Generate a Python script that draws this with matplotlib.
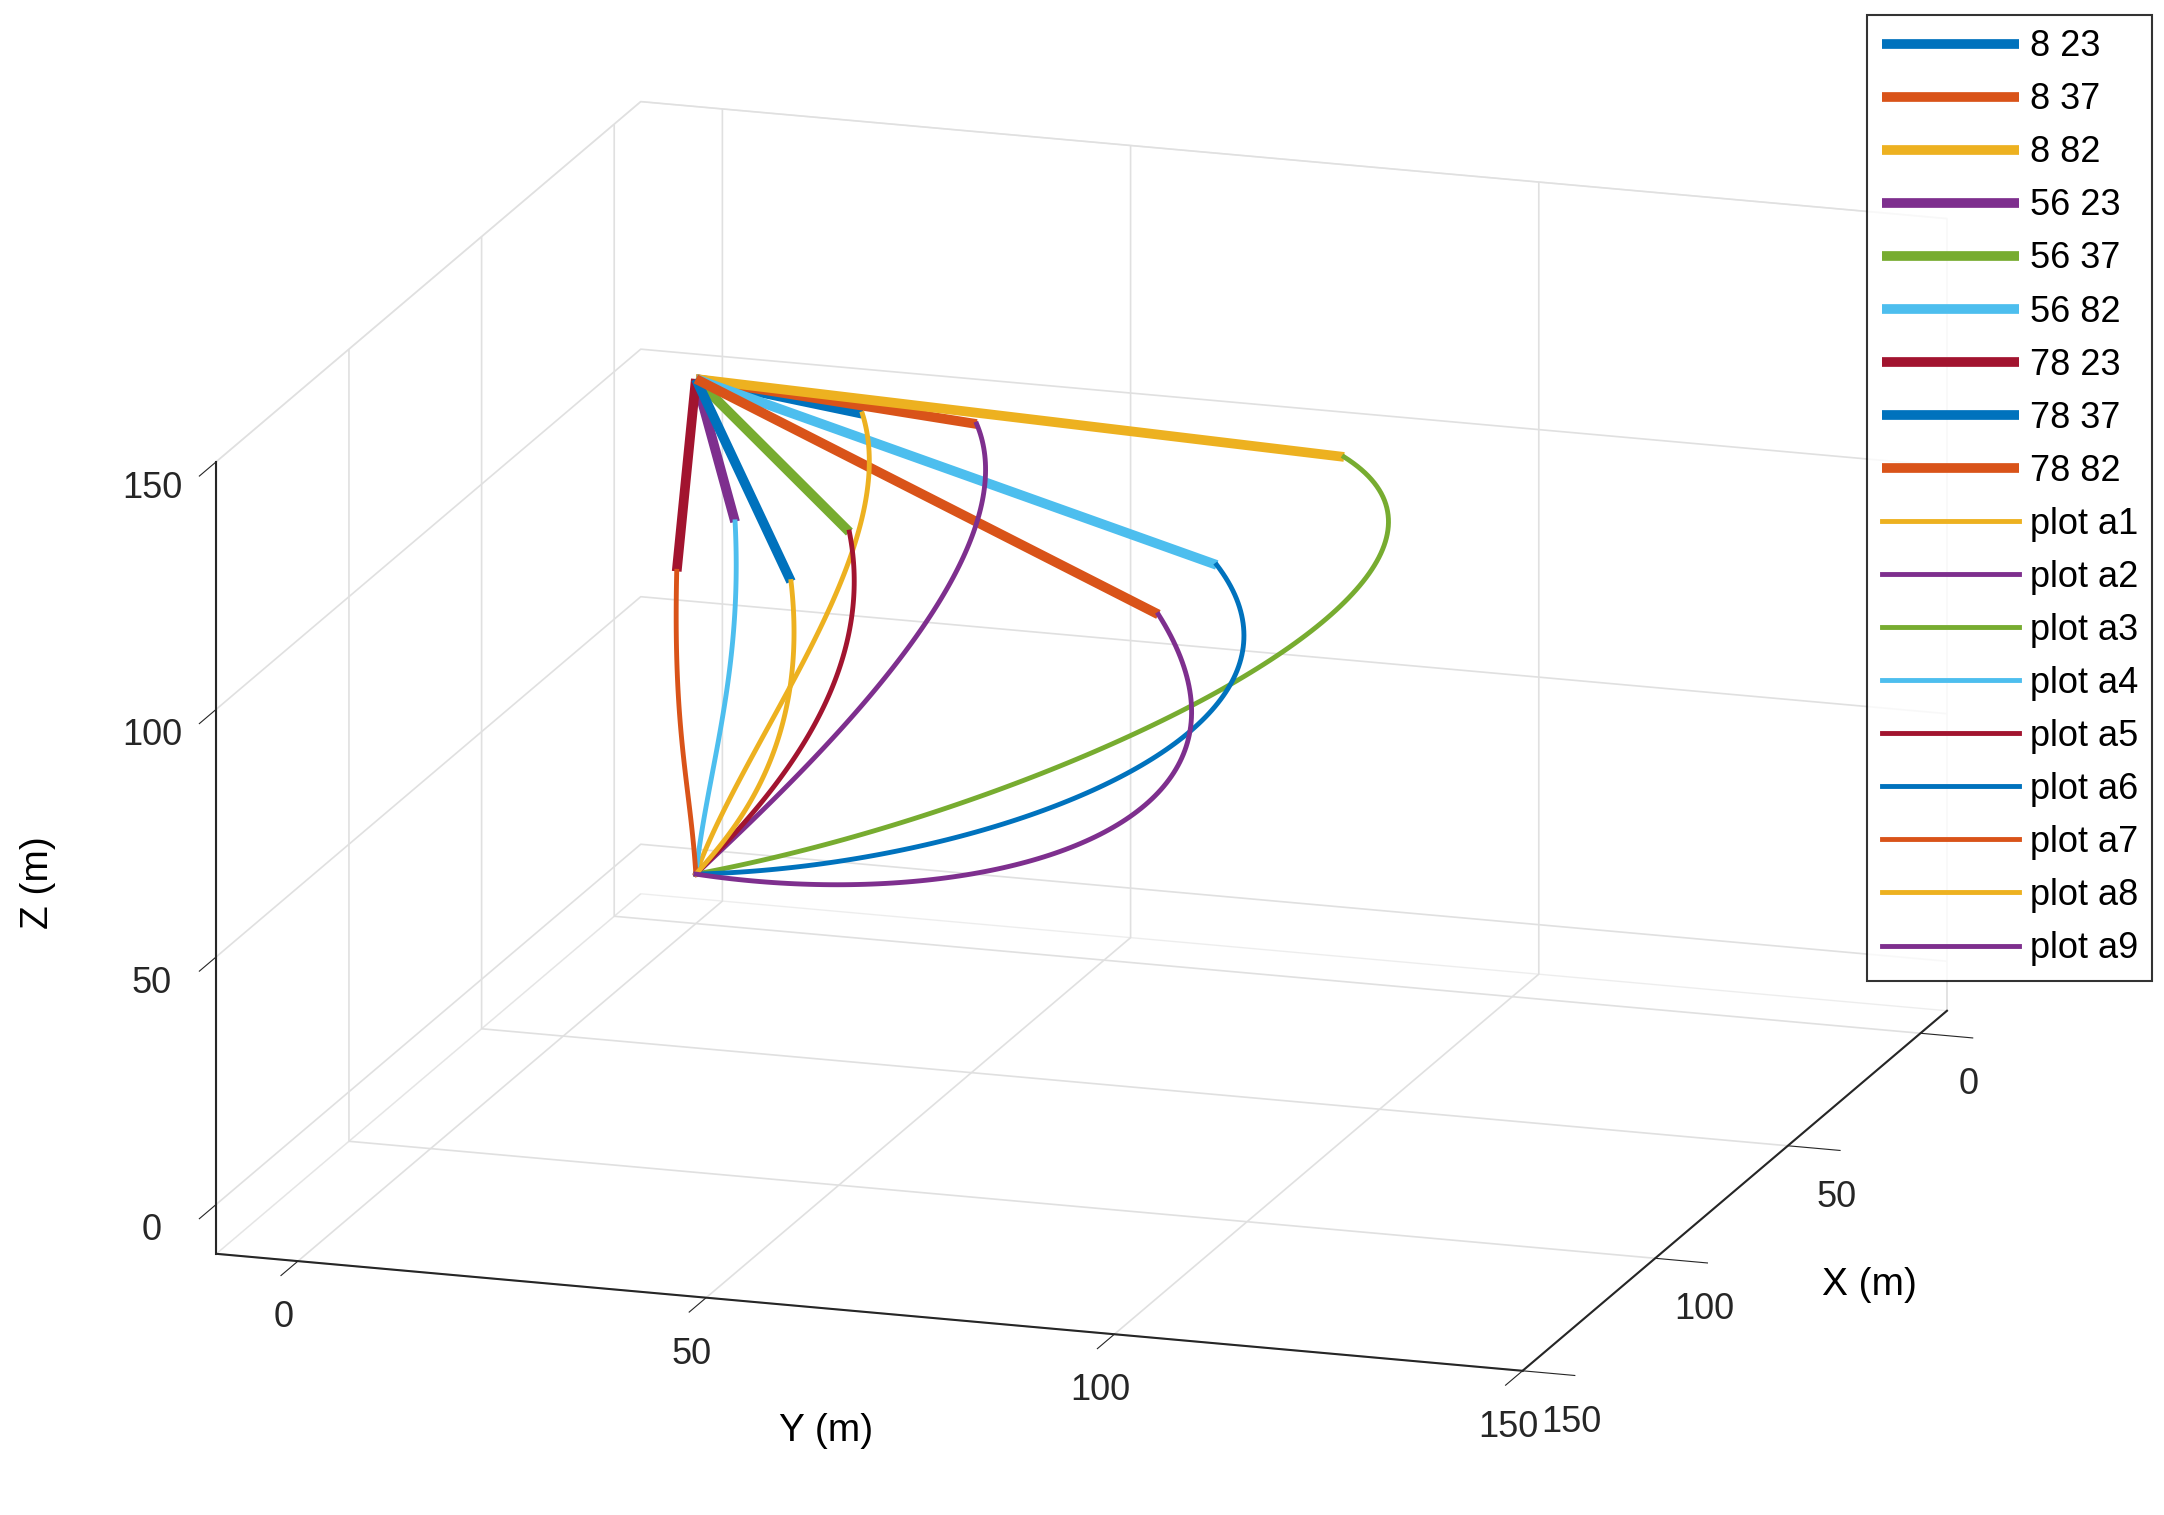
import numpy as np
import matplotlib
matplotlib.use("Agg")
import matplotlib.pyplot as plt

plt.rcParams['font.family'] = ['Liberation Sans', 'DejaVu Sans']

# matlab default colour order
colors = ['#0072BD', '#D95319', '#EDB120', '#7E2F8E', '#77AC30', '#4DBEEE', '#A2142F']

start = (0, 0, 100)
goal = (0, 0, 0)
wp_x = [8, 8, 8, 56, 56, 56, 78, 78, 78]
wp_y = [23, 37, 82, 23, 37, 82, 23, 37, 82]
wp_labels = ['8 23', '8 37', '8 82', '56 23', '56 37', '56 82', '78 23', '78 37', '78 82']
curve_labels = ['plot a%d' % i for i in range(1, 10)]
# bezier control factors (outward scale, height) for the descending curves
c1_scale = [1.25, 1.2, 1.3, 1.2, 1.2, 1.25, 1.2, 1.2, 1.3]
c1_z = [75, 75, 80, 75, 75, 75, 75, 75, 70]
c2_scale = [0.3, 0.4, 0.55, 0.3, 0.4, 0.55, 0.3, 0.4, 0.6]
c2_z = [30, 25, 22, 30, 25, 22, 30, 25, 20]

fig = plt.figure(figsize=(21.64, 15.15), dpi=100)
ax = fig.add_axes([0.01, -0.02, 0.96, 1.04], projection='3d')
ax.set_proj_type('ortho')
ax.view_init(elev=16, azim=18)
ax.set_box_aspect((1, 1, 0.6), zoom=1.3)

handles = []
for i in range(9):
    h, = ax.plot([start[0], wp_x[i]], [start[1], wp_y[i]], [start[2], start[2]],
                 color=colors[i % 7], lw=7, label=wp_labels[i], solid_capstyle='butt')
    handles.append(h)

t = np.linspace(0, 1, 120)[:, None]
for i in range(9):
    P0 = np.array([wp_x[i], wp_y[i], start[2]])
    P1 = np.array([wp_x[i] * c1_scale[i], wp_y[i] * c1_scale[i], c1_z[i]])
    P2 = np.array([wp_x[i] * c2_scale[i], wp_y[i] * c2_scale[i], c2_z[i]])
    P3 = np.array(goal)
    pts = ((1 - t) ** 3 * P0 + 3 * (1 - t) ** 2 * t * P1
           + 3 * (1 - t) * t ** 2 * P2 + t ** 3 * P3)
    h, = ax.plot(pts[:, 0], pts[:, 1], pts[:, 2], color=colors[(i + 9) % 7],
                 lw=3.5, label=curve_labels[i])
    handles.append(h)

ax.set_xlim(-10, 150)
ax.set_ylim(-10, 150)
ax.set_zlim(-10, 150)
ticks = [0, 50, 100, 150]
ax.set_xticks(ticks)
ax.set_yticks(ticks)
ax.set_zticks(ticks)
ax.tick_params(labelsize=26, colors='#262626')
ax.tick_params(axis='x', pad=14)
ax.tick_params(axis='y', pad=12)
ax.tick_params(axis='z', pad=14)
for axis in (ax.xaxis, ax.yaxis):
    axis.set_rotate_label(False)
ax.set_xlabel('X (m)', fontsize=28, labelpad=40, rotation=0)
ax.set_ylabel('Y (m)', fontsize=28, labelpad=40, rotation=0)
ax.set_zlabel('Z (m)', fontsize=28, labelpad=40)

for axis in (ax.xaxis, ax.yaxis, ax.zaxis):
    axis.pane.fill = False
    axis.pane.set_edgecolor('#dddddd')
    axis._axinfo['grid']['color'] = '#e0e0e0'
    axis._axinfo['grid']['linewidth'] = 1.2
    axis._axinfo['tick']['inward_factor'] = 0.5
    axis._axinfo['tick']['outward_factor'] = 0.0
    axis.line.set_color('#262626')
    axis.line.set_linewidth(1.5)

leg = fig.legend(handles=handles, loc='upper right', bbox_to_anchor=(0.998, 0.995),
                 fontsize=26, frameon=True, fancybox=False, edgecolor='black',
                 handlelength=3.8, handletextpad=0.3, labelspacing=0.5, borderaxespad=0.2)
leg.get_frame().set_linewidth(1.5)

fig.savefig('out.png', dpi=100)
